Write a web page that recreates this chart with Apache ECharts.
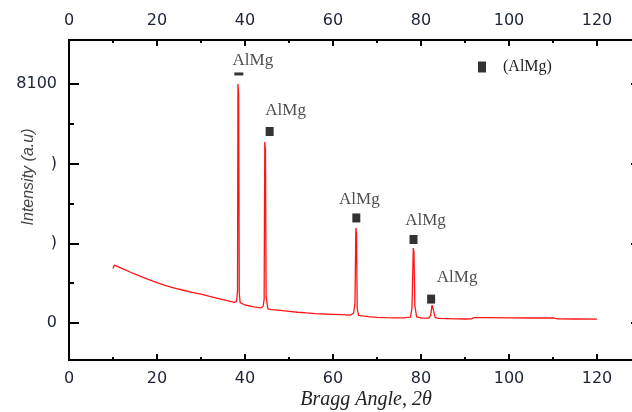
<!DOCTYPE html>
<html>
<head>
<meta charset="utf-8">
<script src="https://cdn.jsdelivr.net/npm/echarts@6/dist/echarts.min.js"></script>
<style>
html, body { margin: 0; padding: 0; background: #fff; }
#chart { width: 632px; height: 412px; }
</style>
</head>
<body>
<div id="chart"></div>
<script>
// XRD pattern
const twoTheta = [10, 10.3, 11, 12, 14, 16, 18, 20, 22, 24, 26, 28, 30, 32, 34, 36, 37.6,
  38.1, 38.3, 38.4, 38.55, 38.7, 38.9, 40, 42, 43.6, 44.1, 44.35, 44.5, 44.65, 44.8, 45.2, 46,
  48, 50, 52, 54, 56, 58, 60, 62, 64, 64.7, 65.0, 65.2, 65.35, 65.5, 65.8, 68, 70, 72, 74, 76,
  77.6, 77.95, 78.25, 78.4, 78.6, 79, 80, 81.8, 82.2, 82.5, 82.8, 83.2, 84, 86, 88, 90, 91.5,
  92, 95, 100, 105, 110, 111, 115, 120];
const intensity = [1850, 1960, 1920, 1850, 1720, 1600, 1480, 1370, 1270, 1180, 1110, 1040, 980,
  900, 830, 760, 700,
  740, 1100, 8100, 7750, 1000, 690, 610, 550, 510, 560, 800, 6130, 5850, 900, 480, 455,
  425, 395, 365, 340, 320, 305, 295, 285, 270, 330, 700, 3220, 3000, 500, 255, 215, 190, 180,
  175, 175, 200, 500, 2540, 2400, 600, 210, 170, 165, 260, 610, 450, 190, 160, 150, 140, 135,
  140, 185, 180, 175, 170, 170, 140, 135, 130];

const phaseNames = ['AlMg', 'AlMg', 'AlMg', 'AlMg', 'AlMg'];
const markerAngle = [38.6, 45.6, 65.3, 78.3, 82.3];
const markerLevel = [8440, 6490, 3560, 2830, 810];

const xTicks = [0, 20, 40, 60, 80, 100, 120];
const yTicks = [0, 2700, 5400, 8100];
const yTickLabels = ['0', ')', ')', '8100'];
const yMinorTicks = [1350, 4050, 6750];

// label nudges and marker sizes (styling only)
const labelNudge = [[14, -13], [16, -21], [3, -18], [12, -19], [26, -22]];
const markerSize = [[9, 3], [8, 9], [8, 9], [8, 9], [8, 9]];

const chart = echarts.init(document.getElementById('chart'));

const tickFont = { fontFamily: 'DejaVu Sans', fontSize: 16, color: '#1c2338' };
const black = { color: '#000', width: 2 };

const xAxisBase = {
  type: 'value', min: 0, max: 130, interval: 20,
  axisLine: { onZero: false, lineStyle: black },
  axisTick: { inside: true, length: 6, lineStyle: black },
  minorTick: { show: true, splitNumber: 2, length: 3, lineStyle: black },
  splitLine: { show: false },
  axisLabel: Object.assign({
    formatter: v => (xTicks.indexOf(v) >= 0 ? String(v) : '')
  }, tickFont)
};

const yRange = { min: -1254, max: 9591 };
const gridBox = { left: 69, top: 40, right: -9, bottom: 52, outerBoundsMode: 'none', containLabel: false };

const option = {
  animation: false,
  backgroundColor: '#fff',
  grid: [Object.assign({}, gridBox), Object.assign({}, gridBox)],
  xAxis: [
    Object.assign({}, xAxisBase, { gridIndex: 0, position: 'bottom',
      axisLabel: Object.assign({}, xAxisBase.axisLabel, { margin: 11 }) }),
    Object.assign({}, xAxisBase, { gridIndex: 0, position: 'top',
      axisLabel: Object.assign({}, xAxisBase.axisLabel, { margin: 11 }) }),
    { type: 'value', gridIndex: 1, min: 0, max: 130, show: false }
  ],
  yAxis: [
    Object.assign({ type: 'value', gridIndex: 0, position: 'left',
      axisLine: { onZero: false, lineStyle: black },
      axisTick: { inside: true, length: 10, lineStyle: black, customValues: yTicks },
      splitLine: { show: false },
      axisLabel: Object.assign({ margin: 12, customValues: yTicks,
        formatter: v => yTickLabels[yTicks.indexOf(v)] }, tickFont)
    }, yRange),
    Object.assign({ type: 'value', gridIndex: 0, position: 'right',
      axisLine: { onZero: false, lineStyle: black },
      axisTick: { inside: true, length: 10, lineStyle: black, customValues: yTicks },
      splitLine: { show: false },
      axisLabel: { show: false }
    }, yRange),
    Object.assign({ type: 'value', gridIndex: 1, position: 'left',
      axisLine: { show: false, onZero: false },
      axisTick: { inside: true, length: 5, lineStyle: black, customValues: yMinorTicks },
      splitLine: { show: false },
      axisLabel: { show: false }
    }, yRange),
    Object.assign({ type: 'value', gridIndex: 1, position: 'right',
      axisLine: { show: false, onZero: false },
      axisTick: { inside: true, length: 5, lineStyle: black, customValues: yMinorTicks },
      splitLine: { show: false },
      axisLabel: { show: false }
    }, yRange)
  ],
  legend: {
    left: 473, top: 54,
    itemWidth: 8, itemHeight: 11,
    data: [{ name: '(AlMg)', icon: 'rect' }],
    textStyle: { fontFamily: 'Liberation Serif', fontSize: 16, color: '#222', padding: [0, 0, 0, 12] }
  },
  graphic: [
    { type: 'text', x: 366, y: 390,
      style: { text: 'Bragg Angle, 2θ', font: 'italic 20px "Liberation Serif"', fill: '#222',
        align: 'center', verticalAlign: 'top' } },
    { type: 'text', x: 21, y: 177, rotation: Math.PI / 2,
      style: { text: 'Intensity (a.u)', font: 'italic 16px "Liberation Sans"', fill: '#444',
        align: 'center', verticalAlign: 'top' } }
  ],
  series: [
    {
      type: 'line', xAxisIndex: 0, yAxisIndex: 0,
      data: twoTheta.map((t, i) => [t, intensity[i]]),
      showSymbol: false,
      lineStyle: { color: '#ff1414', width: 1.3 },
      silent: true
    },
    {
      name: '(AlMg)', type: 'scatter', xAxisIndex: 0, yAxisIndex: 0,
      symbol: 'rect',
      itemStyle: { color: '#000' },
      data: markerAngle.map((a, i) => ({
        value: [a, markerLevel[i]],
        symbolSize: markerSize[i],
        label: { offset: labelNudge[i] }
      })),
      label: {
        show: true, position: 'inside',
        formatter: p => phaseNames[p.dataIndex],
        fontFamily: 'Liberation Serif', fontSize: 17, color: '#222'
      }
    }
  ]
};

chart.setOption(option);
</script>
</body>
</html>
